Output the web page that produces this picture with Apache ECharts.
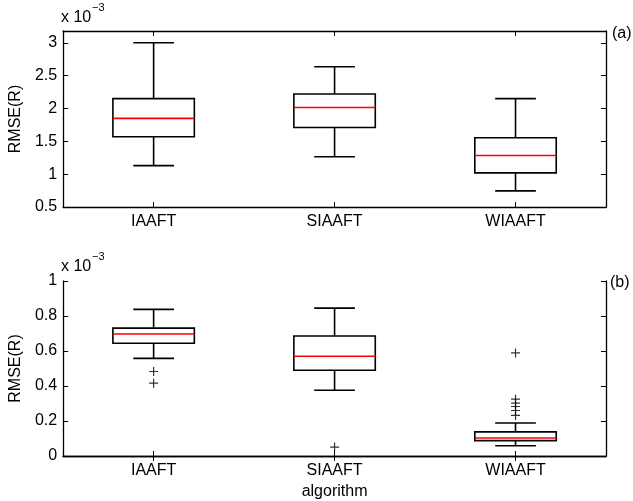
<!DOCTYPE html>
<html>
<head>
<meta charset="utf-8">
<script src="https://cdn.jsdelivr.net/npm/echarts@6/dist/echarts.min.js"></script>
<style>
html,body{margin:0;padding:0;background:#fff;}
#main{width:633px;height:501px;}
</style>
</head>
<body>
<div id="main"></div>
<script>
// Data (values in units of 1e-3)
const categories = ['IAAFT', 'SIAAFT', 'WIAAFT'];
// each row: [lowerWhisker, q1, median, q3, upperWhisker]
const boxA = [
  [1.13, 1.57, 1.85, 2.15, 3.00],
  [1.265, 1.71, 2.015, 2.22, 2.635],
  [0.745, 1.02, 1.285, 1.555, 2.15]
];
const boxB = [
  [0.558, 0.644, 0.697, 0.731, 0.838],
  [0.376, 0.490, 0.570, 0.686, 0.845],
  [0.059, 0.088, 0.103, 0.138, 0.189]
];
// outliers: [categoryIndex, value]
const outliersA = [];
const outliersB = [
  [0, 0.483], [0, 0.416],
  [1, 0.051],
  [2, 0.589], [2, 0.325], [2, 0.302], [2, 0.283], [2, 0.260], [2, 0.232]
];
const yTicksA = [0.5, 1, 1.5, 2, 2.5, 3];
const yTicksB = [0, 0.2, 0.4, 0.6, 0.8, 1];

const FONT = 'Liberation Sans, Arial, Helvetica, sans-serif';
const chart = echarts.init(document.getElementById('main'));

function renderBox(params, api) {
  const x = api.value(0);
  const lo = api.coord([x, api.value(1)]);
  const q1 = api.coord([x, api.value(2)]);
  const med = api.coord([x, api.value(3)]);
  const q3 = api.coord([x, api.value(4)]);
  const hi = api.coord([x, api.value(5)]);
  const band = api.size([1, 0])[0];
  const hw = band * 0.225, cw = band * 0.1125;
  const cx = med[0];
  const s = {stroke: '#000', lineWidth: 1.6};
  return {
    type: 'group',
    children: [
      {type: 'line', shape: {x1: cx, y1: hi[1], x2: cx, y2: q3[1]}, style: s},
      {type: 'line', shape: {x1: cx, y1: q1[1], x2: cx, y2: lo[1]}, style: s},
      {type: 'line', shape: {x1: cx - cw, y1: hi[1], x2: cx + cw, y2: hi[1]}, style: s},
      {type: 'line', shape: {x1: cx - cw, y1: lo[1], x2: cx + cw, y2: lo[1]}, style: s},
      {type: 'rect', shape: {x: cx - hw, y: q3[1], width: 2 * hw, height: q1[1] - q3[1]},
        style: {fill: '#fff', stroke: '#000', lineWidth: 1.6}},
      {type: 'line', shape: {x1: cx - hw, y1: med[1], x2: cx + hw, y2: med[1]},
        style: {stroke: '#ff0000', lineWidth: 1.6}}
    ]
  };
}

function toBoxData(arr) { return arr.map((r, i) => [i].concat(r)); }

const axisLineStyle = {show: true, lineStyle: {color: '#000', width: 1.3}};
const tickStyle = {show: true, inside: true, length: 5, lineStyle: {color: '#000', width: 1}};
const labelStyle = {color: '#000', fontSize: 16, fontFamily: FONT};

function xAxes(gridIndex, withName) {
  return [
    {type: 'category', gridIndex, data: categories, position: 'bottom',
      axisLine: axisLineStyle, axisTick: Object.assign({alignWithLabel: true}, tickStyle),
      axisLabel: Object.assign({margin: 7}, labelStyle), splitLine: {show: false},
      name: withName ? 'algorithm' : '', nameLocation: 'middle', nameGap: 28,
      nameTextStyle: labelStyle},
    {type: 'category', gridIndex, data: categories, position: 'top',
      axisLine: axisLineStyle, axisTick: Object.assign({alignWithLabel: true}, tickStyle),
      axisLabel: {show: false}, splitLine: {show: false}}
  ];
}
function yAxes(gridIndex, min, max, showMax) {
  return [
    {type: 'value', gridIndex, min, max, interval: 0.2 * (gridIndex === 0 ? 2.5 : 1), position: 'left',
      axisLine: axisLineStyle, axisTick: tickStyle,
      axisLabel: Object.assign({margin: 6, showMaxLabel: showMax,
        formatter: v => String(Math.round(v * 10) / 10)}, labelStyle),
      splitLine: {show: false},
      name: 'RMSE(R)', nameLocation: 'middle', nameGap: 38, nameTextStyle: labelStyle},
    {type: 'value', gridIndex, min, max, interval: 0.2 * (gridIndex === 0 ? 2.5 : 1), position: 'right',
      axisLine: axisLineStyle, axisTick: tickStyle, axisLabel: {show: false},
      splitLine: {show: false}}
  ];
}

const plusSymbol = 'path://M0,5L10,5M5,0L5,10';

chart.setOption({
  animation: false,
  backgroundColor: '#fff',
  grid: [
    {left: 61, top: 31, width: 545, height: 176},
    {left: 61, top: 281, width: 545, height: 175}
  ],
  xAxis: xAxes(0, false).concat(xAxes(1, true)),
  yAxis: yAxes(0, 0.5, 3.18, false).concat(yAxes(1, 0, 1, true)),
  series: [
    {type: 'custom', xAxisIndex: 0, yAxisIndex: 0, renderItem: renderBox,
      encode: {x: 0, y: [1, 2, 3, 4, 5]}, data: toBoxData(boxA), z: 5},
    {type: 'custom', xAxisIndex: 2, yAxisIndex: 2, renderItem: renderBox,
      encode: {x: 0, y: [1, 2, 3, 4, 5]}, data: toBoxData(boxB), z: 5},
    {type: 'scatter', xAxisIndex: 0, yAxisIndex: 0, data: outliersA, symbol: plusSymbol, symbolSize: 9,
      itemStyle: {color: 'none', borderColor: '#000', borderWidth: 1.2}, z: 6},
    {type: 'scatter', xAxisIndex: 2, yAxisIndex: 2, data: outliersB, symbol: plusSymbol, symbolSize: 9,
      itemStyle: {color: 'none', borderColor: '#000', borderWidth: 1.2}, z: 6}
  ],
  graphic: [
    {type: 'text', left: 61, top: 10, style: {text: 'x 10', fontSize: 16, fontFamily: FONT, fill: '#000'}},
    {type: 'text', left: 92, top: 2, style: {text: '\u22123', fontSize: 11, fontFamily: FONT, fill: '#000'}},
    {type: 'text', left: 61, top: 259, style: {text: 'x 10', fontSize: 16, fontFamily: FONT, fill: '#000'}},
    {type: 'text', left: 92, top: 251, style: {text: '\u22123', fontSize: 11, fontFamily: FONT, fill: '#000'}},
    {type: 'text', left: 612, top: 26, style: {text: '(a)', fontSize: 16, fontFamily: FONT, fill: '#000'}},
    {type: 'text', left: 610, top: 275, style: {text: '(b)', fontSize: 16, fontFamily: FONT, fill: '#000'}}
  ]
});
</script>
</body>
</html>
